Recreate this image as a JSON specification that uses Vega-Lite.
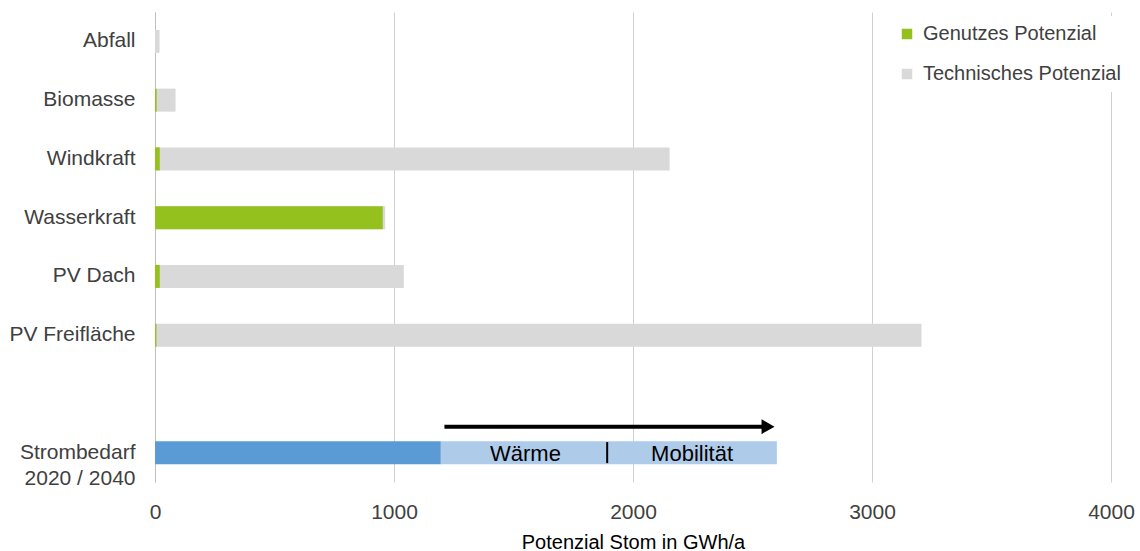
{
  "$schema": "https://vega.github.io/schema/vega-lite/v6.json",
  "autosize": {"type": "none"},
  "width": 956,
  "height": 470,
  "padding": {"left": 155, "top": 12, "right": 29, "bottom": 69},
  "background": "white",
  "config": {
    "view": {"stroke": null},
    "font": "Liberation Sans"
  },
  "datasets": {
    "potential": [
      {"cat": "Abfall", "type": "Technisches Potenzial", "value": 19},
      {"cat": "Biomasse", "type": "Technisches Potenzial", "value": 86},
      {"cat": "Windkraft", "type": "Technisches Potenzial", "value": 2153},
      {"cat": "Wasserkraft", "type": "Technisches Potenzial", "value": 963},
      {"cat": "PV Dach", "type": "Technisches Potenzial", "value": 1041},
      {"cat": "PV Freifläche", "type": "Technisches Potenzial", "value": 3207},
      {"cat": "Abfall", "type": "Genutzes Potenzial", "value": 0},
      {"cat": "Biomasse", "type": "Genutzes Potenzial", "value": 7},
      {"cat": "Windkraft", "type": "Genutzes Potenzial", "value": 20},
      {"cat": "Wasserkraft", "type": "Genutzes Potenzial", "value": 953},
      {"cat": "PV Dach", "type": "Genutzes Potenzial", "value": 20},
      {"cat": "PV Freifläche", "type": "Genutzes Potenzial", "value": 6}
    ],
    "demand": [
      {"cat": "Strombedarf|2020 / 2040", "segment": "2020", "start": 0, "end": 1196},
      {"cat": "Strombedarf|2020 / 2040", "segment": "2040", "start": 1196, "end": 2602}
    ],
    "labels": [
      {"cat": "Strombedarf|2020 / 2040", "x": 1550, "label": "Wärme"},
      {"cat": "Strombedarf|2020 / 2040", "x": 2247, "label": "Mobilität"}
    ],
    "divider": [
      {"cat": "Strombedarf|2020 / 2040", "x": 1892}
    ],
    "arrow": [
      {"cat": "Strombedarf|2020 / 2040", "start": 1211, "end": 2560, "tip": 2565}
    ]
  },
  "encoding": {
    "y": {
      "field": "cat",
      "type": "nominal",
      "scale": {
        "domain": ["Abfall", "Biomasse", "Windkraft", "Wasserkraft", "PV Dach", "PV Freifläche", " ", "Strombedarf|2020 / 2040"],
        "paddingInner": 0,
        "paddingOuter": 0
      },
      "axis": {
        "title": null,
        "labelExpr": "split(datum.label, '|')",
        "labelFontSize": 21,
        "labelColor": "#404040",
        "labelPadding": 20,
        "labelLineHeight": 26,
        "ticks": false,
        "tickSize": 0,
        "domain": true,
        "domainColor": "#bfbfbf",
        "domainWidth": 1,
        "grid": false
      }
    }
  },
  "layer": [
    {
      "data": {"name": "potential"},
      "mark": {"type": "bar", "size": 23},
      "encoding": {
        "x": {
          "field": "value",
          "type": "quantitative",
          "stack": null,
          "scale": {"domain": [0, 4000], "nice": false},
          "axis": {
            "values": [0, 1000, 2000, 3000, 4000],
            "format": "d",
            "labelFlush": false,
            "labelOverlap": false,
            "title": "Potenzial Stom in GWh/a",
            "titleFontSize": 20,
            "titleColor": "#000000",
            "titleFontWeight": "normal",
            "titlePadding": 10,
            "labelFontSize": 21,
            "labelColor": "#404040",
            "labelPadding": 19,
            "ticks": false,
            "tickSize": 0,
            "domain": false,
            "grid": true,
            "gridColor": "#d0d0d0",
            "gridWidth": 1
          }
        },
        "color": {
          "field": "type",
          "type": "nominal",
          "scale": {
            "domain": ["Genutzes Potenzial", "Technisches Potenzial"],
            "range": ["#95c11f", "#d9d9d9"]
          },
          "legend": {
            "title": null,
            "orient": "none",
            "legendX": 734,
            "legendY": 4,
            "symbolType": "square",
            "symbolSize": 110,
            "symbolStrokeWidth": 0,
            "labelFontSize": 20,
            "labelColor": "#404040",
            "labelOffset": 6,
            "labelLimit": 0,
            "rowPadding": 20,
            "padding": 8,
            "fillColor": "white"
          }
        }
      }
    },
    {
      "data": {"name": "demand"},
      "mark": {"type": "bar", "size": 23},
      "encoding": {
        "x": {"field": "start", "type": "quantitative"},
        "x2": {"field": "end"},
        "color": {
          "condition": {"test": "datum.segment == '2020'", "value": "#5b9bd5"},
          "value": "#aecbea"
        }
      }
    },
    {
      "data": {"name": "labels"},
      "mark": {"type": "text", "fontSize": 22, "color": "#000000", "baseline": "middle", "align": "center", "dy": 1},
      "encoding": {
        "x": {"field": "x", "type": "quantitative"},
        "text": {"field": "label"}
      }
    },
    {
      "data": {"name": "divider"},
      "mark": {"type": "tick", "color": "#000000", "thickness": 2, "size": 21, "opacity": 1},
      "encoding": {
        "x": {"field": "x", "type": "quantitative"}
      }
    },
    {
      "data": {"name": "arrow"},
      "mark": {"type": "rule", "color": "#000000", "strokeWidth": 4, "yOffset": -26},
      "encoding": {
        "x": {"field": "start", "type": "quantitative"},
        "x2": {"field": "end"}
      }
    },
    {
      "data": {"name": "arrow"},
      "mark": {"type": "point", "shape": "triangle-right", "filled": true, "color": "#000000", "size": 225, "opacity": 1, "yOffset": -26},
      "encoding": {
        "x": {"field": "tip", "type": "quantitative"}
      }
    }
  ]
}
